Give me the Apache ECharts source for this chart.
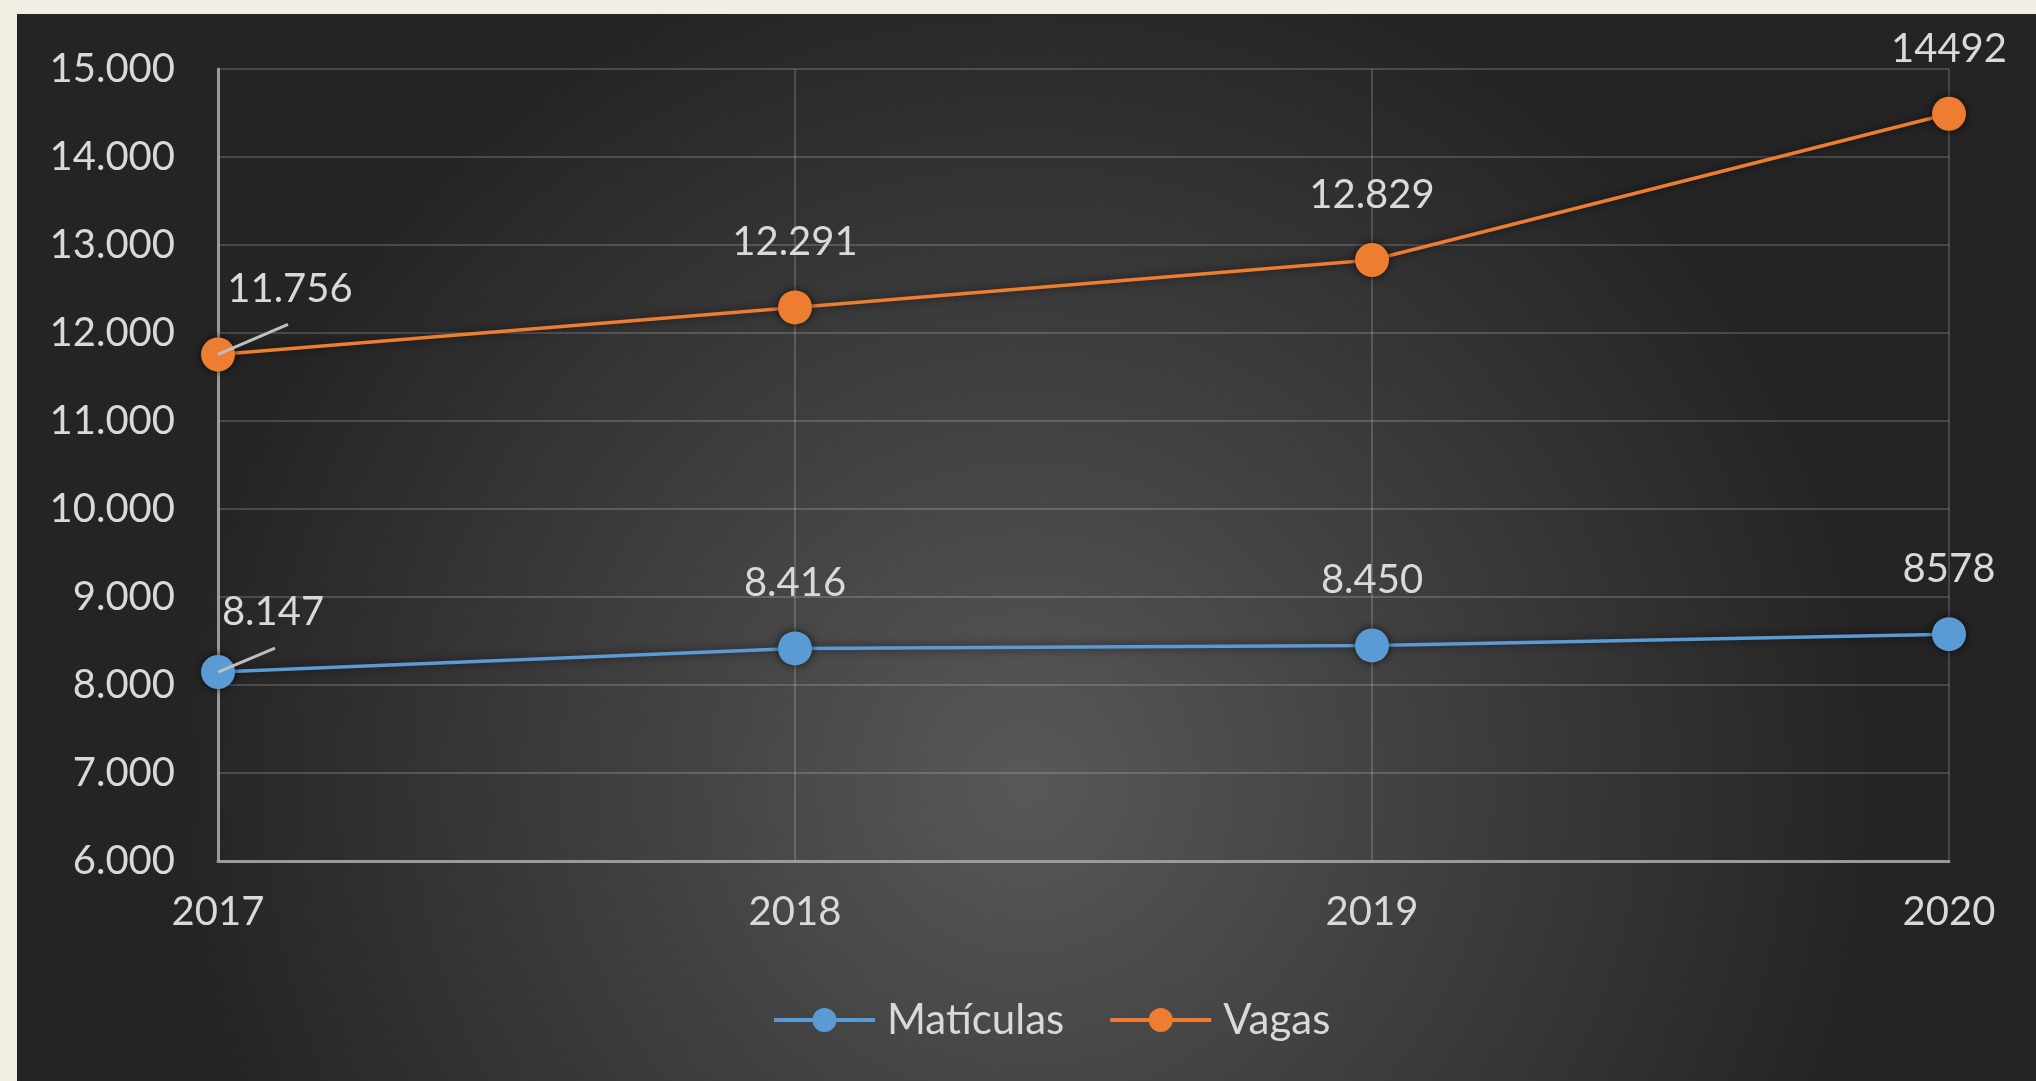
<!DOCTYPE html>
<html>
<head>
<meta charset="utf-8">
<script src="https://cdn.jsdelivr.net/npm/echarts@6/dist/echarts.min.js"></script>
<style>
  html, body { margin: 0; padding: 0; background: #f1efe3; width: 2036px; height: 1081px; overflow: hidden; }
  #chart { position: absolute; left: 17px; top: 14px; width: 2019px; height: 1067px; }
</style>
</head>
<body>
<div id="chart"></div>
<script>
// chart data
const years = ["2017", "2018", "2019", "2020"];
const matriculas = [8147, 8416, 8450, 8578];
const matriculasLabels = ["8.147", "8.416", "8.450", "8578"];
const vagas = [11756, 12291, 12829, 14492];
const vagasLabels = ["11.756", "12.291", "12.829", "14492"];

const textColor = "#d9d9d9";
const font = "Lato";

const chart = echarts.init(document.getElementById("chart"));

function seriesFor(name, values, labels, color, firstShift) {
  return {
    name,
    type: "line",
    data: values,
    symbol: "circle",
    symbolSize: 34,
    lineStyle: { color, width: 3.5, shadowBlur: 8, shadowColor: "rgba(0,0,0,0.6)" },
    itemStyle: { color, shadowBlur: 8, shadowColor: "rgba(0,0,0,0.7)" },
    label: {
      show: true,
      position: "top",
      distance: 28,
      color: textColor,
      fontFamily: font,
      fontSize: 40,
      formatter: (p) => labels[p.dataIndex],
    },
    labelLayout: (p) => (p.dataIndex === 0 ? { dx: firstShift[0], dy: firstShift[1] } : {}),
  };
}

chart.setOption({
  backgroundColor: new echarts.graphic.RadialGradient(0.5, 0.72, 0.8, [
    { offset: 0, color: "#585858" },
    { offset: 1, color: "#242424" },
  ]),
  textStyle: { fontFamily: font },
  legend: {
    left: 750,
    top: 980,
    itemWidth: 101,
    itemHeight: 30,
    itemGap: 44,
    lineStyle: { width: 4 },
    textStyle: { color: textColor, fontFamily: font, fontSize: 42, padding: [0, 0, 0, 7] },
    data: ["Matículas", "Vagas"],
  },
  grid: { left: 201, top: 55, width: 1731, height: 792 },
  xAxis: {
    type: "category",
    boundaryGap: false,
    data: years,
    axisLine: { lineStyle: { color: "#9a9a9a", width: 3 } },
    axisTick: { show: false },
    axisLabel: { color: textColor, fontFamily: font, fontSize: 40, margin: 31 },
    splitLine: { show: true, lineStyle: { color: "rgba(255,255,255,0.17)", width: 2 } },
  },
  yAxis: {
    type: "value",
    min: 6000,
    max: 15000,
    interval: 1000,
    axisLine: { show: true, lineStyle: { color: "#9a9a9a", width: 3 } },
    axisTick: { show: false },
    axisLabel: {
      color: textColor,
      fontFamily: font,
      fontSize: 40,
      margin: 43,
      formatter: (v) => String(v).replace(/\B(?=(\d{3})+(?!\d))/g, "."),
    },
    splitLine: { lineStyle: { color: "rgba(255,255,255,0.17)", width: 2 } },
  },
  series: [
    seriesFor("Matículas", matriculas, matriculasLabels, "#5b9bd5", [55, 5]),
    seriesFor("Vagas", vagas, vagasLabels, "#ed7d31", [72, 0]),
  ],
});

// leader lines for the shifted first labels, anchored on the data points
const leaders = [
  { series: 0, value: matriculas[0], d: [57, -24] },
  { series: 1, value: vagas[0], d: [70, -30] },
];
chart.setOption({
  graphic: leaders.map((l) => {
    const [x, y] = chart.convertToPixel({ seriesIndex: l.series }, [0, l.value]);
    return {
      type: "line",
      z: 100,
      shape: { x1: x, y1: y, x2: x + l.d[0], y2: y + l.d[1] },
      style: { stroke: "#bfbfbf", lineWidth: 3 },
    };
  }),
});
</script>
</body>
</html>
